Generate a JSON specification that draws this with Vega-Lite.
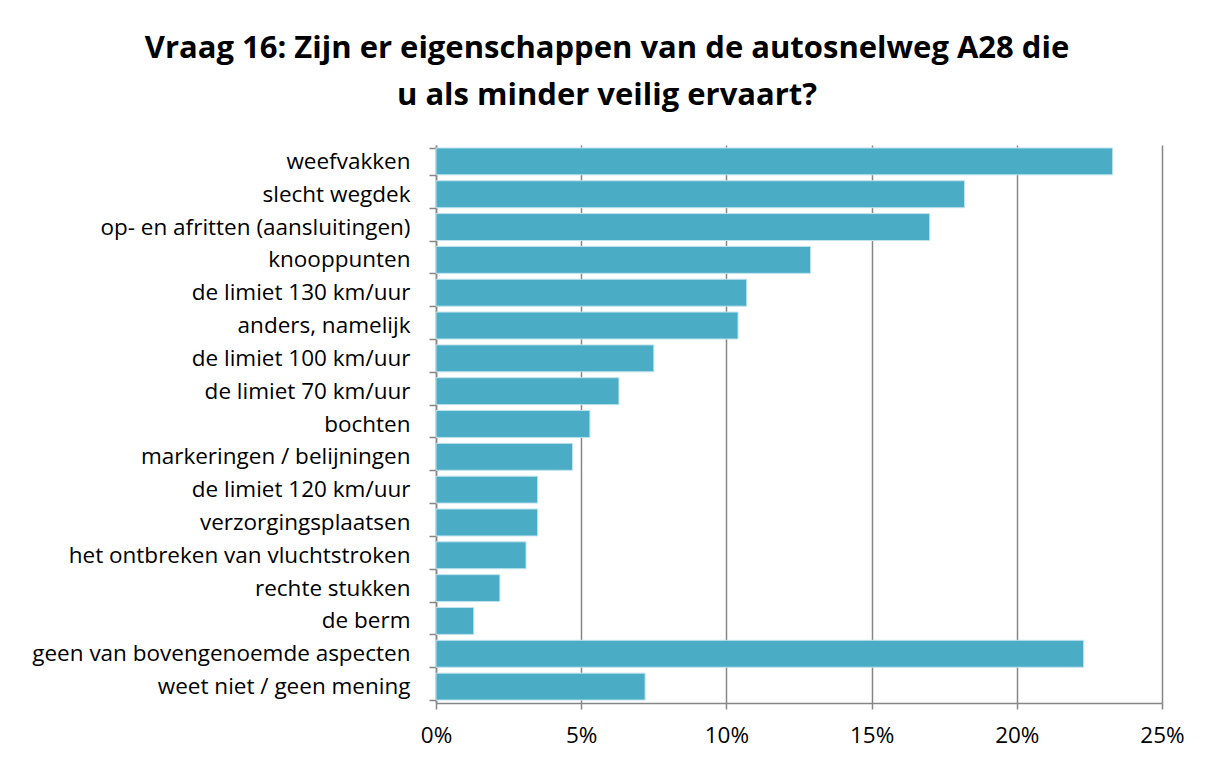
{
  "$schema": "https://vega.github.io/schema/vega-lite/v6.json",
  "width": 726,
  "height": 558,
  "autosize": {"type": "none"},
  "padding": {"left": 436, "top": 145, "right": 51, "bottom": 66},
  "background": "white",
  "title": {
    "text": ["Vraag 16: Zijn er eigenschappen van de autosnelweg A28 die", "u als minder veilig ervaart?"],
    "font": "Open Sans",
    "fontSize": 31,
    "fontWeight": "bold",
    "color": "black",
    "anchor": "middle",
    "frame": "group",
    "dx": -192,
    "offset": 22,
    "lineHeight": 47
  },
  "data": {
    "values": [
      {"aspect": "weefvakken", "pct": 23.3},
      {"aspect": "slecht wegdek", "pct": 18.2},
      {"aspect": "op- en afritten (aansluitingen)", "pct": 17.0},
      {"aspect": "knooppunten", "pct": 12.9},
      {"aspect": "de limiet 130 km/uur", "pct": 10.7},
      {"aspect": "anders, namelijk", "pct": 10.4},
      {"aspect": "de limiet 100 km/uur", "pct": 7.5},
      {"aspect": "de limiet 70 km/uur", "pct": 6.3},
      {"aspect": "bochten", "pct": 5.3},
      {"aspect": "markeringen / belijningen", "pct": 4.7},
      {"aspect": "de limiet 120 km/uur", "pct": 3.5},
      {"aspect": "verzorgingsplaatsen", "pct": 3.5},
      {"aspect": "het ontbreken van vluchtstroken", "pct": 3.1},
      {"aspect": "rechte stukken", "pct": 2.2},
      {"aspect": "de berm", "pct": 1.3},
      {"aspect": "geen van bovengenoemde aspecten", "pct": 22.3},
      {"aspect": "weet niet / geen mening", "pct": 7.2}
    ]
  },
  "mark": {"type": "bar", "color": "#4BACC6", "stroke": "#bfe3ec", "strokeWidth": 1},
  "encoding": {
    "y": {
      "field": "aspect",
      "type": "nominal",
      "sort": null,
      "scale": {"paddingInner": 0.18, "paddingOuter": 0.09},
      "axis": {
        "title": null,
        "tickBand": "extent",
        "tickSize": 7,
        "tickColor": "#868686",
        "tickWidth": 1.5,
        "domainColor": "#868686",
        "domainWidth": 1.5,
        "labelPadding": 19,
        "labelFont": "Open Sans",
        "labelFontSize": 22.5,
        "labelColor": "black",
        "labelLimit": 600,
        "grid": false
      }
    },
    "x": {
      "field": "pct",
      "type": "quantitative",
      "scale": {"domain": [0, 25], "nice": false},
      "axis": {
        "title": null,
        "values": [0, 5, 10, 15, 20, 25],
        "labelExpr": "datum.value + '%'",
        "grid": true,
        "gridColor": "#868686",
        "gridWidth": 1.5,
        "domainColor": "#868686",
        "domainWidth": 1.5,
        "tickColor": "#868686",
        "tickWidth": 1.5,
        "tickSize": 6,
        "labelPadding": 15,
        "labelFont": "Open Sans",
        "labelFontSize": 22.5,
        "labelColor": "black",
        "labelFlush": false
      }
    }
  },
  "config": {"view": {"stroke": null}}
}
